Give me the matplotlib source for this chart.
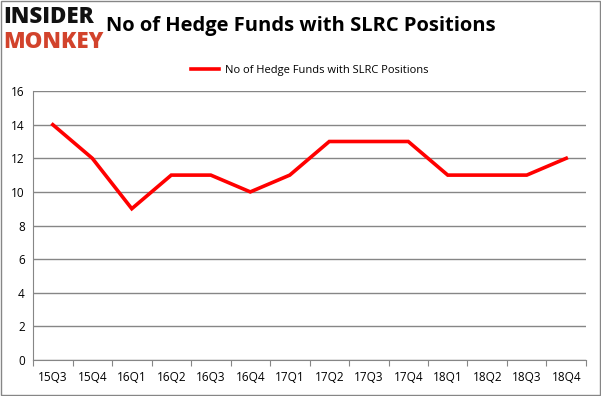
import numpy as np
import matplotlib
matplotlib.use('Agg')
import matplotlib.pyplot as plt

# data
# ----

quarters = ['15Q3', '15Q4', '16Q1', '16Q2', '16Q3', '16Q4', '17Q1',
            '17Q2', '17Q3', '17Q4', '18Q1', '18Q2', '18Q3', '18Q4']
hedge_funds = [14, 12, 9, 11, 11, 10, 11, 13, 13, 13, 11, 11, 11, 12]
y_ticks = [0, 2, 4, 6, 8, 10, 12, 14, 16]
series_name = 'No of Hedge Funds with SLRC Positions'

# figure
# ------

plt.rcParams['font.family'] = ['Open Sans', 'DejaVu Sans']
fig = plt.figure(figsize=(6.01, 3.96), dpi=100)
ax = fig.add_axes([0.055, 0.091, 0.920, 0.679])

x = np.arange(len(quarters))
ax.plot(x, hedge_funds, color='#ff0000', linewidth=2.6, label=series_name,
        solid_joinstyle='miter')

ax.set_xlim(-0.5, len(quarters) - 0.5)
ax.set_ylim(0, 16)
ax.set_yticks(y_ticks)
ax.grid(axis='y', color='#868686', linewidth=1)
ax.set_axisbelow(True)

# categories sit between the tick marks
ax.set_xticks(np.arange(len(quarters) + 1) - 0.5)
ax.set_xticklabels([])
ax.set_xticks(x, minor=True)
ax.set_xticklabels(quarters, minor=True)
ax.tick_params(axis='x', which='major', direction='out', length=4, color='#868686')
ax.tick_params(axis='x', which='minor', length=0, pad=8, labelsize=8.5)
ax.tick_params(axis='y', length=0, pad=6, labelsize=8.5)

for side in ['top', 'right']:
    ax.spines[side].set_visible(False)
for side in ['left', 'bottom']:
    ax.spines[side].set_color('#868686')

ax.legend(loc='lower center', bbox_to_anchor=(0.5, 1.02), frameon=False,
          fontsize=8, handlelength=2.6, handletextpad=0.5)

# title and logo
fig.text(0.5, 0.935, 'No of Hedge Funds with SLRC Positions', ha='center', va='center',
         fontsize=14.5, fontweight='bold')
fig.text(0.006, 0.957, 'INSIDER', ha='left', va='center', fontsize=16,
         fontweight='heavy', color='#111111')
fig.text(0.006, 0.893, 'MONKEY', ha='left', va='center', fontsize=16,
         fontweight='heavy', color='#d2432c')

# thin frame around the whole picture
fig.patches.append(plt.Rectangle((0.001, 0.002), 0.997, 0.996, transform=fig.transFigure,
                                 fill=False, edgecolor='#868686', linewidth=1))

fig.savefig('out.png', dpi=100)
